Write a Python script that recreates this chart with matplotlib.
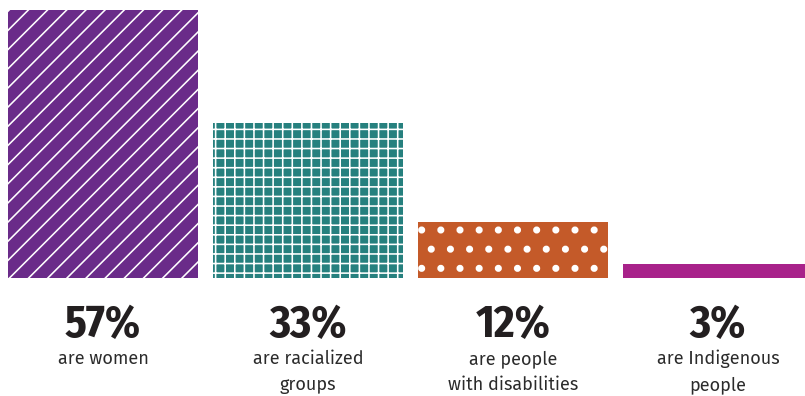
import matplotlib
matplotlib.use("Agg")
import matplotlib.pyplot as plt
import matplotlib.transforms as mtransforms

# data
values = [57, 33, 12, 3]
pct_labels = ["57%", "33%", "12%", "3%"]
sub_labels = [["are women"],
              ["are racialized", "groups"],
              ["are people", "with disabilities"],
              ["are Indigenous", "people"]]
colors = ["#6a2b89", "#26807e", "#c45a29", "#a8228a"]
hatches = ["//", "++", ".", None]
hatch_lw = [1.0, 1.0, 2.0, 1.0]

plt.rcParams["font.family"] = ["Fira Sans Condensed", "DejaVu Sans"]

DPI = 115
W, H = 805, 396
fig = plt.figure(figsize=(W / DPI, H / DPI), dpi=DPI)

# axes: bar base at y=278 px, 57% top at y=10 px
ax = fig.add_axes([0, (H - 278) / H, 1, 268 / H])
x = list(range(len(values)))
for i, v in enumerate(values):
    with plt.rc_context({"hatch.linewidth": hatch_lw[i]}):
        bars = ax.bar(i, v, width=190 / 205, color=colors[i], edgecolor="white",
                      linewidth=0, hatch=hatches[i])
        for p in bars:
            if hasattr(p, "set_hatch_linewidth"):
                p.set_hatch_linewidth(hatch_lw[i])
ax.set_xlim(-103 / 205, (W - 103) / 205)
ax.set_ylim(0, 57)
ax.axis("off")

trans = mtransforms.blended_transform_factory(ax.transData, fig.transFigure)
for i in x:
    ax.text(i, 1 - 337 / H, pct_labels[i], transform=trans, ha="center",
            va="baseline", fontsize=28, fontweight="bold", color="#231f20")
    for j, line in enumerate(sub_labels[i]):
        ax.text(i, 1 - (364 + 26 * j) / H, line, transform=trans,
                ha="center", va="baseline", fontsize=11.3,
                family=["Fira Sans", "DejaVu Sans"], fontweight="normal",
                color="#2b2b2b")

fig.savefig("out.png", dpi=DPI)
